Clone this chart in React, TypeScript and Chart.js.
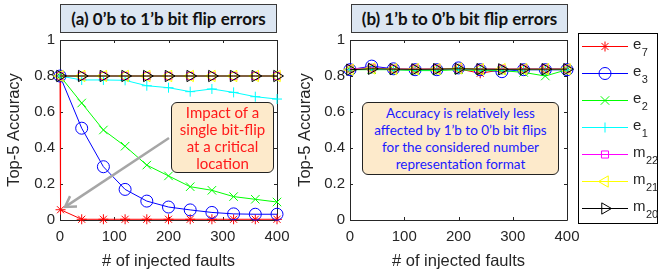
import React, { useEffect, useRef } from 'react';
import { Chart, registerables } from 'chart.js';
import { drawPoint } from 'chart.js/helpers';
Chart.register(...registerables);

// ---------- data ----------
const faults = [0, 40, 80, 120, 160, 200, 240, 280, 320, 360, 400];
const faultsE7Left = [0, 1, 40, 80, 120, 160, 200, 240, 280, 320, 360, 400];

const leftE7 = [0.8, 0.057, 0.004, 0.004, 0.004, 0.004, 0.004, 0.004, 0.004, 0.004, 0.004, 0.004];
const leftE3 = [0.8, 0.51, 0.296, 0.17, 0.105, 0.072, 0.056, 0.042, 0.034, 0.032, 0.032];
const leftE2 = [0.8, 0.65, 0.5, 0.41, 0.305, 0.245, 0.185, 0.165, 0.13, 0.115, 0.1];
const leftE1 = [0.8, 0.778, 0.778, 0.776, 0.746, 0.735, 0.713, 0.728, 0.709, 0.685, 0.672];
const leftM22 = [0.8, 0.8, 0.8, 0.8, 0.8, 0.8, 0.8, 0.8, 0.8, 0.8, 0.8];
const leftM21 = [0.8, 0.8, 0.8, 0.8, 0.8, 0.8, 0.8, 0.8, 0.8, 0.8, 0.8];
const leftM20 = [0.8, 0.8, 0.8, 0.8, 0.8, 0.8, 0.8, 0.8, 0.8, 0.8, 0.8];

const rightE7 = [0.835, 0.84, 0.835, 0.835, 0.835, 0.84, 0.815, 0.835, 0.835, 0.835, 0.835];
const rightE3 = [0.835, 0.855, 0.84, 0.835, 0.835, 0.845, 0.835, 0.824, 0.835, 0.835, 0.835];
const rightE2 = [0.835, 0.835, 0.835, 0.83, 0.83, 0.835, 0.83, 0.83, 0.82, 0.8, 0.835];
const rightE1 = [0.835, 0.84, 0.835, 0.835, 0.835, 0.84, 0.835, 0.835, 0.835, 0.835, 0.835];
const rightM22 = [0.84, 0.845, 0.84, 0.84, 0.84, 0.842, 0.84, 0.84, 0.84, 0.84, 0.84];
const rightM21 = [0.835, 0.842, 0.838, 0.838, 0.838, 0.842, 0.838, 0.838, 0.838, 0.838, 0.838];
const rightM20 = [0.835, 0.84, 0.838, 0.837, 0.838, 0.84, 0.838, 0.837, 0.838, 0.838, 0.838];

const yTicks = [0, 0.2, 0.4, 0.6, 0.8, 1];
const xTicks = [0, 100, 200, 300, 400];

const seriesNames = ['e7', 'e3', 'e2', 'e1', 'm22', 'm21', 'm20'];
const seriesBase = ['e', 'e', 'e', 'e', 'm', 'm', 'm'];
const seriesSub = ['7', '3', '2', '1', '22', '21', '20'];
const seriesColors = ['#ff0000', '#0000ff', '#00ff00', '#00ffff', '#ff00ff', '#ffff00', '#000000'];
const seriesPointStyles = ['star', 'circle', 'crossRot', 'cross', 'rect', 'triangle', 'triangle'];
const seriesRotations = [0, 0, 0, 0, 0, -90, 90];
const seriesRadii = [5, 6, 6, 5, 5, 6.5, 6.5];

const TEXT = '#262626';
const FONT = "'Liberation Sans', Arial, sans-serif";

function makeDatasets(xs: number[][], ys: number[][]) {
  return ys.map((vals, i) => ({
    label: seriesNames[i],
    data: vals.map((v, j) => ({ x: xs[i][j], y: v })),
    borderColor: seriesColors[i],
    backgroundColor: 'rgba(0,0,0,0)',
    borderWidth: 1,
    pointStyle: seriesPointStyles[i],
    pointRotation: seriesRotations[i],
    pointRadius: seriesRadii[i],
    pointBorderColor: seriesColors[i],
    pointBackgroundColor: 'rgba(0,0,0,0)',
    pointBorderWidth: 1,
    tension: 0,
    clip: false as any,
    order: 6 - i,
  }));
}

const boxPlugin = {
  id: 'matlabBox',
  beforeDatasetsDraw(chart: any) {
    const { ctx, chartArea: a, scales } = chart;
    ctx.save();
    ctx.strokeStyle = TEXT;
    ctx.lineWidth = 1;
    ctx.beginPath();
    ctx.rect(Math.round(a.left) + 0.5, Math.round(a.top) + 0.5, Math.round(a.right - a.left), Math.round(a.bottom - a.top));
    ctx.stroke();
    const tl = 3;
    ctx.beginPath();
    xTicks.forEach((t) => {
      const x = Math.round(scales.x.getPixelForValue(t)) + 0.5;
      ctx.moveTo(x, a.bottom);
      ctx.lineTo(x, a.bottom - tl);
      ctx.moveTo(x, a.top);
      ctx.lineTo(x, a.top + tl);
    });
    yTicks.forEach((t) => {
      const y = Math.round(scales.y.getPixelForValue(t)) + 0.5;
      ctx.moveTo(a.left, y);
      ctx.lineTo(a.left + tl, y);
      ctx.moveTo(a.right, y);
      ctx.lineTo(a.right - tl, y);
    });
    ctx.stroke();
    ctx.restore();
  },
};

const arrowPlugin = {
  id: 'arrow',
  afterDatasetsDraw(chart: any, _args: any, opts: any) {
    if (!opts || !opts.enabled) return;
    const { ctx } = chart;
    const [x1, y1, x2, y2] = opts.coords;
    ctx.save();
    ctx.strokeStyle = '#a6a6a6';
    ctx.lineWidth = 2.5;
    const ang = Math.atan2(y2 - y1, x2 - x1);
    ctx.beginPath();
    ctx.moveTo(x1, y1);
    ctx.lineTo(x2 - Math.cos(ang) * 2, y2 - Math.sin(ang) * 2);
    ctx.stroke();
    const hl = 12;
    ctx.lineJoin = 'miter';
    ctx.beginPath();
    ctx.moveTo(x2 - hl * Math.cos(ang - 0.55), y2 - hl * Math.sin(ang - 0.55));
    ctx.lineTo(x2, y2);
    ctx.lineTo(x2 - hl * Math.cos(ang + 0.55), y2 - hl * Math.sin(ang + 0.55));
    ctx.stroke();
    ctx.restore();
  },
};

const legendPlugin = {
  id: 'customLegend',
  afterDraw(chart: any, _args: any, opts: any) {
    if (!opts || !opts.enabled) return;
    const { ctx } = chart;
    const { left, top, width, height, rowY0, rowStep, lineX1, lineX2, markX, textX } = opts;
    ctx.save();
    ctx.fillStyle = '#ffffff';
    ctx.fillRect(left, top, width, height);
    ctx.strokeStyle = '#000000';
    ctx.lineWidth = 1;
    ctx.strokeRect(left + 0.5, top + 0.5, width, height);
    seriesNames.forEach((_n, i) => {
      const y = rowY0 + i * rowStep;
      ctx.strokeStyle = seriesColors[i];
      ctx.lineWidth = 1;
      ctx.beginPath();
      ctx.moveTo(lineX1, y + 0.5);
      ctx.lineTo(lineX2, y + 0.5);
      ctx.stroke();
      ctx.fillStyle = 'rgba(0,0,0,0)';
      ctx.strokeStyle = seriesColors[i];
      drawPoint(ctx, {
        pointStyle: seriesPointStyles[i],
        rotation: seriesRotations[i],
        radius: seriesRadii[i],
        borderWidth: 1,
      } as any, markX, y + 0.5);
      ctx.fillStyle = TEXT;
      ctx.textBaseline = 'alphabetic';
      ctx.textAlign = 'left';
      ctx.font = `15px ${FONT}`;
      ctx.fillText(seriesBase[i], textX, y + 3);
      const w = ctx.measureText(seriesBase[i]).width;
      ctx.font = `11px ${FONT}`;
      ctx.fillText(seriesSub[i], textX + w + 0.5, y + 10);
    });
    ctx.restore();
  },
};

function buildOptions(yAxisWidth: number, titlePadTop: number, padRight: number, extra: any) {
  return {
    responsive: false,
    animation: false as const,
    events: [] as any[],
    layout: { padding: { left: 0, right: padRight, top: 40, bottom: 2 } },
    plugins: {
      legend: { display: false },
      tooltip: { enabled: false },
      ...extra,
    },
    scales: {
      x: {
        type: 'linear' as const,
        min: 0,
        max: 400,
        afterFit: (s: any) => { s.height = 51; },
        grid: { display: false, drawTicks: false },
        border: { display: false },
        ticks: {
          stepSize: 100,
          padding: 8,
          color: TEXT,
          font: { family: FONT, size: 15 },
          maxRotation: 0,
        },
        title: {
          display: true,
          text: '# of injected faults',
          color: TEXT,
          font: { family: FONT, size: 16.5 },
          padding: { top: 0, bottom: 0 },
        },
      },
      y: {
        min: 0,
        max: 1,
        afterFit: (s: any) => { s.width = yAxisWidth; },
        grid: { display: false, drawTicks: false },
        border: { display: false },
        ticks: {
          stepSize: 0.2,
          padding: 5,
          color: TEXT,
          font: { family: FONT, size: 15 },
          callback: (v: any) => String(Math.round(Number(v) * 10) / 10),
        },
        title: {
          display: true,
          text: 'Top-5 Accuracy',
          color: TEXT,
          font: { family: FONT, size: 16.5 },
          padding: { top: titlePadTop, bottom: 0 },
        },
      },
    },
  };
}

function App() {
  const leftRef = useRef<HTMLCanvasElement>(null);
  const rightRef = useRef<HTMLCanvasElement>(null);

  useEffect(() => {
    const lxs = [faultsE7Left, faults, faults, faults, faults, faults, faults];
    const rxs = [faults, faults, faults, faults, faults, faults, faults];
    const left = new Chart(leftRef.current as HTMLCanvasElement, {
      type: 'line',
      data: { datasets: makeDatasets(lxs, [leftE7, leftE3, leftE2, leftE1, leftM22, leftM21, leftM20]) as any },
      options: buildOptions(60, 5, 23, { arrow: { enabled: true, coords: [169, 138, 65, 207] } }) as any,
      plugins: [boxPlugin, arrowPlugin],
    });
    const right = new Chart(rightRef.current as HTMLCanvasElement, {
      type: 'line',
      data: { datasets: makeDatasets(rxs, [rightE7, rightE3, rightE2, rightE1, rightM22, rightM21, rightM20]) as any },
      options: buildOptions(57, 3, 92, {
        customLegend: {
          enabled: true,
          left: 285, top: 33, width: 79, height: 190,
          rowY0: 46, rowStep: 27, lineX1: 289, lineX2: 335, markX: 312, textX: 340,
        },
      }) as any,
      plugins: [boxPlugin, legendPlugin],
    });
    return () => { left.destroy(); right.destroy(); };
  }, []);

  const titleBox: React.CSSProperties = {
    position: 'absolute', top: 4, height: 29, width: 217, boxSizing: 'border-box',
    background: '#dce6f2', border: '1.5px solid #3a3a3a',
    display: 'flex', alignItems: 'center', justifyContent: 'center',
    fontFamily: "Lato, 'Open Sans', sans-serif", fontWeight: 700, fontSize: 17, color: '#111',
    whiteSpace: 'nowrap',
  };
  const noteBox: React.CSSProperties = {
    position: 'absolute', boxSizing: 'border-box', background: '#fdeacb',
    border: '1.5px solid #222', borderRadius: 6,
    display: 'flex', flexDirection: 'column', alignItems: 'center', justifyContent: 'center',
    fontFamily: "Lato, 'Open Sans', sans-serif", lineHeight: '17px', whiteSpace: 'nowrap',
  };
  const leftNote = ['Impact of a', 'single bit-flip', 'at a critical', 'location'];
  const rightNote = ['Accuracy is relatively less', 'affected by 1’b to 0’b bit flips', 'for the considered number', 'representation format'];

  return (
    <div style={{ position: 'fixed', left: 0, top: 0, width: 659, height: 273, background: '#fff', overflow: 'hidden' }}>
      <canvas ref={leftRef} width={300} height={273} style={{ position: 'absolute', left: 0, top: 0, width: 300, height: 273 }} />
      <canvas ref={rightRef} width={366} height={273} style={{ position: 'absolute', left: 293, top: 0, width: 366, height: 273 }} />
      <div style={{ ...titleBox, left: 60 }}>(a) 0’b to 1’b bit flip errors</div>
      <div style={{ ...titleBox, left: 351 }}>(b) 1’b to 0’b bit flip errors</div>
      <div style={{ ...noteBox, left: 171, top: 102, width: 103, height: 71, color: '#ff1a1a', fontSize: 15 }}>
        {leftNote.map((t) => <div key={t}>{t}</div>)}
      </div>
      <div style={{ ...noteBox, left: 362, top: 102, width: 197, height: 73, color: '#1a1aff', fontSize: 13.5 }}>
        {rightNote.map((t) => <div key={t}>{t}</div>)}
      </div>
    </div>
  );
}

export default App;
